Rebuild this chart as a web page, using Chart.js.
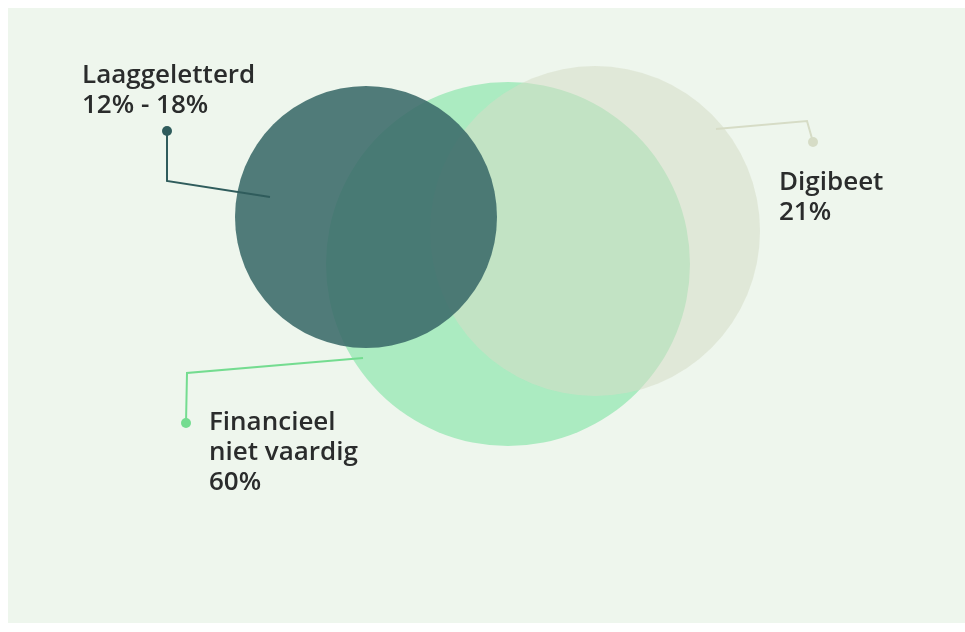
<!DOCTYPE html>
<html>
<head>
<meta charset="utf-8">
<script src="https://cdn.jsdelivr.net/npm/chart.js@4.4.1/dist/chart.umd.min.js"></script>
<style>
  html, body { margin: 0; padding: 0; background: #ffffff; }
  #wrap { width: 965px; height: 632px; }
</style>
</head>
<body>
<div id="wrap"><canvas id="c" width="965" height="632"></canvas></div>
<script>
// ---- Data (diagram units: x 0..965, y 0..632, y downwards) ----
const sets      = ['Laaggeletterd', 'Digibeet', 'Financieel niet vaardig'];
const setValues = ['12% - 18%', '21%', '60%'];
const centerX   = [366, 595, 508];
const centerY   = [217, 231, 264];
const radius    = [131, 165, 182];
const fills     = ['rgba(58,106,105,0.88)', 'rgba(214,221,199,0.55)', '#abebc1'];
const drawOrder = [3, 4, 5];

// leader lines (from inside circle to dot)
const leaderLaag = [{x: 270, y: 197}, {x: 167, y: 181}, {x: 167, y: 131}];
const leaderDigi = [{x: 716, y: 129}, {x: 807, y: 121}, {x: 813, y: 142}];
const leaderFin  = [{x: 363, y: 358}, {x: 187, y: 373}, {x: 186, y: 423}];
const leaderColors = ['#2f5c5c', '#d6dcc6', '#74dc90'];

// label text lines and anchors
const labelLines = [
  ['Laaggeletterd', '12% - 18%'],
  ['Digibeet', '21%'],
  ['Financieel', 'niet vaardig', '60%']
];
const labelX = [82, 779, 209];
const labelY = [76, 183, 423];

const panel = {x0: 8, y0: 8, x1: 965, y1: 623};

const bgPlugin = {
  id: 'bg',
  beforeDraw(chart) {
    const {ctx, scales: {x, y}} = chart;
    ctx.save();
    ctx.fillStyle = '#ffffff';
    ctx.fillRect(0, 0, chart.width, chart.height);
    ctx.fillStyle = '#eef6ed';
    const px0 = x.getPixelForValue(panel.x0), px1 = x.getPixelForValue(panel.x1);
    const py0 = y.getPixelForValue(panel.y0), py1 = y.getPixelForValue(panel.y1);
    ctx.fillRect(px0, py0, px1 - px0, py1 - py0);
    ctx.restore();
  }
};

const textPlugin = {
  id: 'labels',
  afterDatasetsDraw(chart) {
    const {ctx, scales: {x, y}} = chart;
    ctx.save();
    ctx.fillStyle = '#2a2c2c';
    ctx.font = '600 26px "Open Sans", "Noto Sans", sans-serif';
    ctx.textBaseline = 'middle';
    ctx.textAlign = 'left';
    labelLines.forEach((lines, i) => {
      lines.forEach((t, j) => {
        ctx.fillText(t, x.getPixelForValue(labelX[i]), y.getPixelForValue(labelY[i] + j * 30));
      });
    });
    ctx.restore();
  }
};

function pxRadius(ctx) {
  const xs = ctx.chart.scales.x;
  return Math.abs(xs.getPixelForValue(radius[ctx.datasetIndex]) - xs.getPixelForValue(0));
}

const bubbleSets = sets.map((name, i) => ({
  type: 'bubble',
  label: name,
  data: [{x: centerX[i], y: centerY[i], r: radius[i]}],
  backgroundColor: fills[i],
  borderWidth: 0,
  radius: pxRadius,
  hoverRadius: 0,
  order: drawOrder[i],
  clip: false
}));

function leader(points, color) {
  return {
    type: 'line',
    data: points,
    borderColor: color,
    borderWidth: 2,
    pointRadius: [0, 0, 5],
    pointBackgroundColor: color,
    pointBorderWidth: 0,
    fill: false,
    tension: 0,
    order: 1,
    clip: false
  };
}

new Chart(document.getElementById('c'), {
  data: {
    datasets: [
      ...bubbleSets,
      leader(leaderLaag, leaderColors[0]),
      leader(leaderDigi, leaderColors[1]),
      leader(leaderFin, leaderColors[2])
    ]
  },
  options: {
    responsive: false,
    animation: false,
    events: [],
    layout: { padding: 0, autoPadding: false },
    plugins: { legend: { display: false }, tooltip: { enabled: false } },
    scales: {
      x: { type: 'linear', min: 0, max: 965, display: false },
      y: { type: 'linear', min: 0, max: 632, reverse: true, display: false }
    }
  },
  plugins: [bgPlugin, textPlugin]
});
</script>
</body>
</html>
